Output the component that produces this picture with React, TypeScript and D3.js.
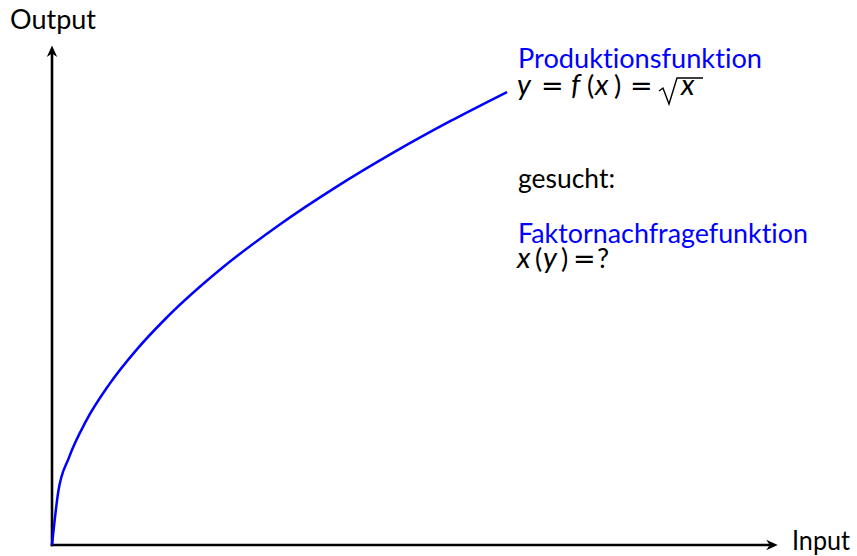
import { useEffect, useRef } from "react";
import * as d3 from "d3";

const inputX = [0, 0.055, 0.15, 0.3, 0.5, 0.75, 1, 1.5, 2, 2.5, 3, 3.5, 4];
const outputY = [0, 0.235, 0.387, 0.548, 0.707, 0.866, 1, 1.225, 1.414, 1.581, 1.732, 1.871, 2];

const xDomain = [0, 4];
const yDomain = [0, 2];
const xAxisEnd = 6.38;
const yAxisEnd = 2.205;

const xLabel = "Input";
const yLabel = "Output";
const curveTitle = "Produktionsfunktion";
const askedLabel = "gesucht:";
const demandTitle = "Faktornachfragefunktion";

type Piece = { s: string; x: number; italic?: boolean; eq?: boolean };

const productionFormula: Piece[] = [
  { s: "y", x: 517, italic: true },
  { s: "=", x: 541, eq: true },
  { s: "f", x: 571, italic: true },
  { s: "(", x: 587 },
  { s: "x", x: 595, italic: true },
  { s: ")", x: 614 },
  { s: "=", x: 630, eq: true },
  { s: "x", x: 681, italic: true },
];

const demandFormula: Piece[] = [
  { s: "x", x: 517, italic: true },
  { s: "(", x: 535 },
  { s: "y", x: 543, italic: true },
  { s: ")", x: 561 },
  { s: "=", x: 573, eq: true },
  { s: "?", x: 597 },
];

const App = () => {
  const svgRef = useRef<SVGSVGElement>(null);

  useEffect(() => {
    const width = 857;
    const height = 556;
    const blue = "#0000ff";
    const font = "Lato, 'DejaVu Sans', sans-serif";
    const eqFont = "'DejaVu Sans', sans-serif";
    const fs = 27;

    const svg = d3.select(svgRef.current).attr("width", width).attr("height", height);
    svg.selectAll("*").remove();

    const x = d3.scaleLinear().domain(xDomain).range([52, 507]);
    const y = d3.scaleLinear().domain(yDomain).range([545, 92]);

    const stealth = (tx: number, ty: number, angle: number) =>
      svg
        .append("path")
        .attr("d", "M0,0 L-11.5,-5.2 L-8,0 L-11.5,5.2 Z")
        .attr("transform", `translate(${tx},${ty}) rotate(${angle})`)
        .attr("fill", "#000");

    // axes
    svg
      .append("line")
      .attr("x1", x(0) - 1.3)
      .attr("y1", y(0))
      .attr("x2", x(xAxisEnd) - 7.5)
      .attr("y2", y(0))
      .attr("stroke", "#000")
      .attr("stroke-width", 2.6);
    stealth(x(xAxisEnd), y(0), 0);

    svg
      .append("line")
      .attr("x1", x(0))
      .attr("y1", y(0) + 1.3)
      .attr("x2", x(0))
      .attr("y2", y(yAxisEnd) + 7.5)
      .attr("stroke", "#000")
      .attr("stroke-width", 2.6);
    stealth(x(0), y(yAxisEnd), -90);

    // curve
    const line = d3
      .line<number>()
      .x((d) => x(d))
      .y((_, i) => y(outputY[i]))
      .curve(d3.curveMonotoneX);

    svg
      .append("path")
      .attr("d", line(inputX))
      .attr("fill", "none")
      .attr("stroke", blue)
      .attr("stroke-width", 2.5)
      .attr("stroke-linejoin", "round");

    const text = (str: string, tx: number, ty: number, fill: string, len: number) =>
      svg
        .append("text")
        .attr("x", tx)
        .attr("y", ty)
        .attr("font-family", font)
        .attr("font-size", fs)
        .attr("fill", fill)
        .attr("textLength", len)
        .attr("lengthAdjust", "spacingAndGlyphs")
        .style("font-variant-ligatures", "none")
        .style("font-feature-settings", "'liga' 0, 'clig' 0")
        .text(str);

    const formula = (pieces: Piece[], baseline: number) => {
      const t = svg
        .append("text")
        .attr("y", baseline)
        .attr("font-family", font)
        .attr("font-size", fs)
        .attr("fill", "#000");
      t.selectAll("tspan")
        .data(pieces)
        .enter()
        .append("tspan")
        .attr("x", (d) => d.x)
        .attr("font-style", (d) => (d.italic ? "italic" : "normal"))
        .attr("font-size", (d) => (d.italic ? 29 : fs))
        .attr("font-family", (d) => (d.eq ? eqFont : font))
        .text((d) => d.s);
    };

    text(yLabel, 10, 28.5, "#000", 86);
    text(xLabel, 792, 550, "#000", 58);

    text(curveTitle, 518, 68, blue, 244);
    formula(productionFormula, 95);
    // radical sign over the last x
    svg
      .append("path")
      .attr("d", "M659,91 L663,88 L669,104 L677,78 L703,78")
      .attr("fill", "none")
      .attr("stroke", "#000")
      .attr("stroke-width", 1.4)
      .attr("stroke-linejoin", "miter");

    text(askedLabel, 518, 188, "#000", 97);
    text(demandTitle, 518, 242.5, blue, 290);
    formula(demandFormula, 268);
  }, []);

  return <svg ref={svgRef} style={{ position: "absolute", left: 0, top: 0 }} />;
};

export default App;
